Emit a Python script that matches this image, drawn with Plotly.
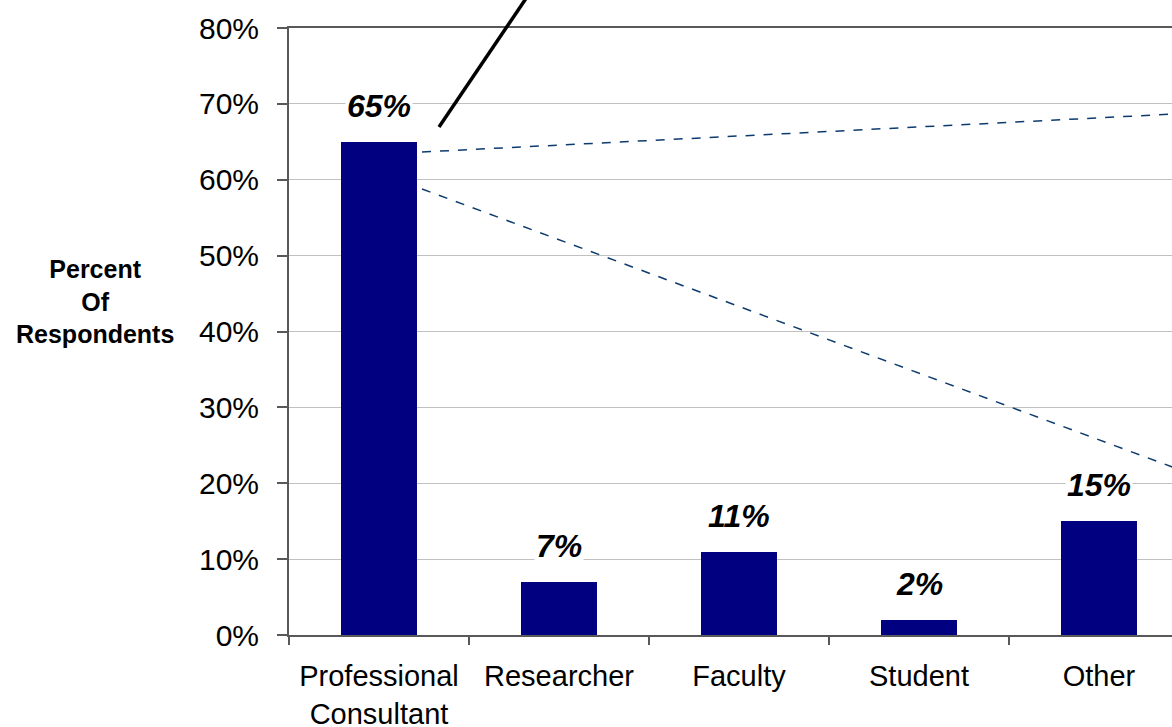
import plotly.graph_objects as go

# Respondent profile shares
categories = ["Professional<br>Consultant", "Researcher", "Faculty", "Student", "Other"]
percent = [65, 7, 11, 2, 15]
value_labels = ["65%", "7%", "11%", "2%", "15%"]
y_ticks = [0, 10, 20, 30, 40, 50, 60, 70, 80]
y_tick_text = [f"{v}%" for v in y_ticks]

FONT = "Liberation Sans, Arial, sans-serif"

W, H = 1172, 727
L, T, B = 289, 28, 92
plot_w = W - L
plot_h = H - T - B
slot_px = 180  # width of one category slot


def px(x):
    return (x - L) / plot_w


def py(y):
    return (H - B - y) / plot_h


fig = go.Figure()
fig.add_trace(go.Bar(
    x=categories,
    y=percent,
    width=0.417,
    marker=dict(color="#000080", line=dict(width=0)),
    hoverinfo="skip",
))

# value labels above the bars, on a white patch over the gridlines
for cat, v, lab in zip(categories, percent, value_labels):
    fig.add_annotation(
        x=cat, y=v, xref="x", yref="y", text=lab, showarrow=False,
        yanchor="middle", yshift=36, bgcolor="white", borderpad=1,
        font=dict(family=FONT, size=32, color="black", weight="bold", style="italic"),
    )

# axis title block on the left
fig.add_annotation(
    x=px(95), y=py(301), xref="paper", yref="paper", showarrow=False,
    text="Percent<br>Of<br>Respondents", align="center",
    xanchor="center", yanchor="middle",
    font=dict(family=FONT, size=25, color="black", weight="bold"),
)

# callout leader lines
fig.add_shape(type="line", xref="paper", yref="paper",
              x0=px(439), y0=py(127), x1=px(527), y1=py(-3),
              line=dict(color="black", width=3.5))
fig.add_shape(type="line", xref="paper", yref="paper",
              x0=px(422), y0=py(152), x1=px(1175), y1=py(114),
              line=dict(color="#0d3b6e", width=1.5, dash="dash"))
fig.add_shape(type="line", xref="paper", yref="paper",
              x0=px(422), y0=py(189), x1=px(1175), y1=py(468),
              line=dict(color="#0d3b6e", width=1.5, dash="dash"))

fig.update_layout(
    width=W, height=H,
    margin=dict(l=L, r=0, t=T, b=B, pad=0, autoexpand=False),
    paper_bgcolor="white", plot_bgcolor="white",
    showlegend=False, bargap=0,
    font=dict(family=FONT, color="black"),
    xaxis=dict(
        type="category",
        range=[-0.5, -0.5 + plot_w / slot_px],
        tickson="boundaries", ticks="outside", ticklen=8, tickwidth=1.5, tickcolor="#595959",
        showline=True, linecolor="#595959", linewidth=2, mirror=True,
        showgrid=False, zeroline=False, fixedrange=True, automargin=False,
        tickfont=dict(family=FONT, size=29, color="black"),
        ticklabelstandoff=14,
    ),
    yaxis=dict(
        range=[0, 80], tickmode="array", tickvals=y_ticks, ticktext=y_tick_text,
        ticks="outside", ticklen=10, tickwidth=1.5, tickcolor="#595959",
        showline=True, linecolor="#595959", linewidth=2,
        showgrid=True, gridcolor="#c0c0c0", gridwidth=1,
        zeroline=False, fixedrange=True, automargin=False,
        tickfont=dict(family=FONT, size=30, color="black"),
        ticklabelstandoff=12,
    ),
)

fig.write_html("out.html")
